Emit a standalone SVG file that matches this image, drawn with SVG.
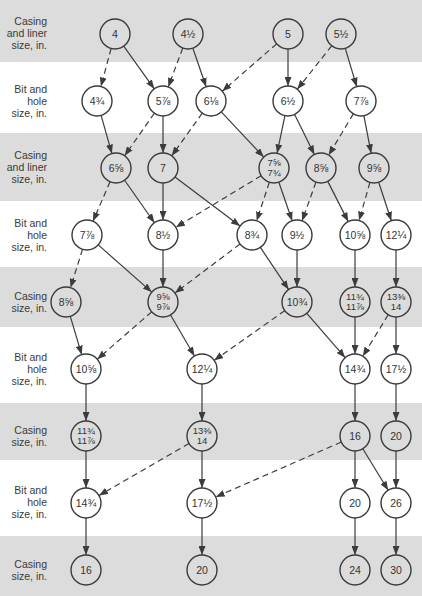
<svg xmlns="http://www.w3.org/2000/svg" width="422" height="596" viewBox="0 0 422 596">
<style>
.band{fill:#dcdcdc}
.lbl{font-family:"Liberation Sans",Arial,sans-serif;font-size:10.5px;fill:#3a3a3a;text-anchor:end}
.c{fill:none;stroke:#3a3a3a;stroke-width:1.4}
.t{font-family:"Liberation Sans","DejaVu Sans",Arial,sans-serif;font-size:10.5px;fill:#333;text-anchor:middle}
.t2{font-family:"Liberation Sans","DejaVu Sans",Arial,sans-serif;font-size:9.5px;fill:#333;text-anchor:middle}
.e{stroke:#3c3c3c;stroke-width:1.2;fill:none;marker-end:url(#ah)}
.d{stroke-dasharray:6 4}
</style>
<defs>
<marker id="ah" markerUnits="userSpaceOnUse" markerWidth="9" markerHeight="7" refX="9" refY="3.5" orient="auto">
<path d="M0,0 L9,3.5 L0,7 Z" fill="#3c3c3c"/>
</marker>
</defs>
<rect width="422" height="596" fill="#ffffff"/>
<g id="bands">
<rect class="band" x="0" y="0" width="422" height="62"/>
<rect class="band" x="0" y="133" width="422" height="68"/>
<rect class="band" x="0" y="267" width="422" height="60"/>
<rect class="band" x="0" y="403" width="422" height="57"/>
<rect class="band" x="0" y="536" width="422" height="60"/>
</g>
<g id="row-labels">
<text class="lbl" x="47" y="25">Casing</text><text class="lbl" x="47" y="37">and liner</text><text class="lbl" x="47" y="49">size, in.</text>
<text class="lbl" x="47" y="93">Bit and</text><text class="lbl" x="47" y="105">hole</text><text class="lbl" x="47" y="117">size, in.</text>
<text class="lbl" x="47" y="159">Casing</text><text class="lbl" x="47" y="171">and liner</text><text class="lbl" x="47" y="183">size, in.</text>
<text class="lbl" x="47" y="227">Bit and</text><text class="lbl" x="47" y="239">hole</text><text class="lbl" x="47" y="251">size, in.</text>
<text class="lbl" x="47" y="300">Casing</text><text class="lbl" x="47" y="312">size, in.</text>
<text class="lbl" x="47" y="361">Bit and</text><text class="lbl" x="47" y="373">hole</text><text class="lbl" x="47" y="385">size, in.</text>
<text class="lbl" x="47" y="434">Casing</text><text class="lbl" x="47" y="446">size, in.</text>
<text class="lbl" x="47" y="494">Bit and</text><text class="lbl" x="47" y="506">hole</text><text class="lbl" x="47" y="518">size, in.</text>
<text class="lbl" x="47" y="568">Casing</text><text class="lbl" x="47" y="580">size, in.</text>
</g>
<g id="connectors">
<line class="e d" x1="111.11" y1="48.49" x2="100.89" y2="86.51"/>
<line class="e" x1="123.74" y1="46.19" x2="154.26" y2="88.81"/>
<line class="e d" x1="182.76" y1="48.05" x2="168.24" y2="86.95"/>
<line class="e" x1="192.87" y1="48.19" x2="206.13" y2="86.81"/>
<line class="e d" x1="276.68" y1="43.85" x2="222.32" y2="91.15"/>
<line class="e" x1="288" y1="49" x2="288" y2="86"/>
<line class="e d" x1="331.69" y1="45.76" x2="297.31" y2="89.24"/>
<line class="e" x1="345.29" y1="48.37" x2="356.71" y2="86.63"/>

<line class="e" x1="101.09" y1="115.43" x2="111.91" y2="153.57"/>
<line class="e d" x1="154.39" y1="113.28" x2="124.61" y2="155.72"/>
<line class="e" x1="163" y1="116" x2="163" y2="153"/>
<line class="e d" x1="202.26" y1="113.19" x2="171.74" y2="155.81"/>
<line class="e" x1="221.28" y1="111.93" x2="263.72" y2="157.07"/>
<line class="e" x1="284.93" y1="115.68" x2="277.07" y2="153.32"/>
<line class="e" x1="294.63" y1="114.46" x2="314.37" y2="154.54"/>
<line class="e d" x1="353.31" y1="113.88" x2="328.69" y2="155.12"/>
<line class="e" x1="363.86" y1="115.73" x2="371.14" y2="153.27"/>

<line class="e d" x1="110.04" y1="181.77" x2="92.96" y2="221.23"/>
<line class="e" x1="124.61" y1="180.28" x2="154.39" y2="222.72"/>
<line class="e" x1="163" y1="183" x2="163" y2="220"/>
<line class="e" x1="174.98" y1="177.02" x2="240.02" y2="225.98"/>
<line class="e d" x1="261.16" y1="175.75" x2="175.84" y2="227.25"/>
<line class="e d" x1="269.32" y1="182.25" x2="256.68" y2="220.75"/>
<line class="e" x1="278.87" y1="182.19" x2="292.13" y2="220.81"/>
<line class="e d" x1="315.94" y1="182.12" x2="302.06" y2="220.88"/>
<line class="e" x1="327.79" y1="181.38" x2="348.21" y2="221.62"/>
<line class="e d" x1="369.91" y1="182.43" x2="359.09" y2="220.57"/>
<line class="e" x1="378.68" y1="182.25" x2="391.32" y2="220.75"/>

<line class="e d" x1="82.51" y1="249.31" x2="70.49" y2="287.69"/>
<line class="e" x1="98.25" y1="244.92" x2="151.75" y2="292.08"/>
<line class="e" x1="163" y1="250" x2="163" y2="287"/>
<line class="e d" x1="240.02" y1="244.02" x2="174.98" y2="292.98"/>
<line class="e" x1="260.36" y1="247.45" x2="288.64" y2="289.55"/>
<line class="e" x1="297" y1="250" x2="297" y2="287"/>
<line class="e" x1="355" y1="250" x2="355" y2="287"/>
<line class="e" x1="396" y1="250" x2="396" y2="287"/>

<line class="e" x1="70.29" y1="316.37" x2="81.71" y2="354.63"/>
<line class="e d" x1="151.68" y1="311.85" x2="97.32" y2="359.15"/>
<line class="e" x1="170.55" y1="314.96" x2="194.45" y2="356.04"/>
<line class="e d" x1="284.74" y1="310.65" x2="214.26" y2="360.35"/>
<line class="e" x1="306.82" y1="313.34" x2="345.18" y2="357.66"/>
<line class="e" x1="355" y1="317" x2="355" y2="354"/>
<line class="e d" x1="388.17" y1="314.79" x2="362.83" y2="356.21"/>
<line class="e" x1="396" y1="317" x2="396" y2="354"/>

<line class="e" x1="86" y1="384" x2="86" y2="421"/>
<line class="e" x1="202" y1="384" x2="202" y2="421"/>
<line class="e" x1="355" y1="384" x2="355" y2="421"/>
<line class="e" x1="396" y1="384" x2="396" y2="421"/>

<line class="e" x1="86" y1="451" x2="86" y2="488"/>
<line class="e d" x1="189.01" y1="443.5" x2="98.99" y2="495.5"/>
<line class="e" x1="202" y1="451" x2="202" y2="488"/>
<line class="e d" x1="341.26" y1="442.02" x2="215.74" y2="496.98"/>
<line class="e" x1="355" y1="451" x2="355" y2="488"/>
<line class="e" x1="362.83" y1="448.79" x2="388.17" y2="490.21"/>
<line class="e" x1="396" y1="451" x2="396" y2="488"/>

<line class="e" x1="86" y1="518" x2="86" y2="555"/>
<line class="e" x1="202" y1="518" x2="202" y2="555"/>
<line class="e" x1="355" y1="518" x2="355" y2="555"/>
<line class="e" x1="396" y1="518" x2="396" y2="555"/>
</g>

<g id="n-a-4"><circle class="c" cx="115" cy="34" r="15"/><text class="t" x="115" y="37.5">4</text></g>
<g id="n-a-4-1-2"><circle class="c" cx="188" cy="34" r="15"/><text class="t" x="188" y="37.5">4½</text></g>
<g id="n-a-5"><circle class="c" cx="288" cy="34" r="15"/><text class="t" x="288" y="37.5">5</text></g>
<g id="n-a-5-1-2"><circle class="c" cx="341" cy="34" r="15"/><text class="t" x="341" y="37.5">5½</text></g>

<g id="n-b-4-3-4"><circle class="c" cx="97" cy="101" r="15"/><text class="t" x="97" y="104.5">4¾</text></g>
<g id="n-b-5-7-8"><circle class="c" cx="163" cy="101" r="15"/><text class="t" x="163" y="104.5">5⅞</text></g>
<g id="n-b-6-1-8"><circle class="c" cx="211" cy="101" r="15"/><text class="t" x="211" y="104.5">6⅛</text></g>
<g id="n-b-6-1-2"><circle class="c" cx="288" cy="101" r="15"/><text class="t" x="288" y="104.5">6½</text></g>
<g id="n-b-7-7-8"><circle class="c" cx="361" cy="101" r="15"/><text class="t" x="361" y="104.5">7⅞</text></g>

<g id="n-c-6-5-8"><circle class="c" cx="116" cy="168" r="15"/><text class="t" x="116" y="171.5">6⅝</text></g>
<g id="n-c-7"><circle class="c" cx="163" cy="168" r="15"/><text class="t" x="163" y="171.5">7</text></g>
<g id="n-c-7-5-8"><circle class="c" cx="274" cy="168" r="15"/><text class="t2" x="274" y="166">7⅝</text><text class="t2" x="274" y="176">7¾</text></g>
<g id="n-c-8-5-8"><circle class="c" cx="321" cy="168" r="15"/><text class="t" x="321" y="171.5">8⅝</text></g>
<g id="n-c-9-5-8"><circle class="c" cx="374" cy="168" r="15"/><text class="t" x="374" y="171.5">9⅝</text></g>

<g id="n-d-7-7-8"><circle class="c" cx="87" cy="235" r="15"/><text class="t" x="87" y="238.5">7⅞</text></g>
<g id="n-d-8-1-2"><circle class="c" cx="163" cy="235" r="15"/><text class="t" x="163" y="238.5">8½</text></g>
<g id="n-d-8-3-4"><circle class="c" cx="252" cy="235" r="15"/><text class="t" x="252" y="238.5">8¾</text></g>
<g id="n-d-9-1-2"><circle class="c" cx="297" cy="235" r="15"/><text class="t" x="297" y="238.5">9½</text></g>
<g id="n-d-10-5-8"><circle class="c" cx="355" cy="235" r="15"/><text class="t" x="355" y="238.5">10⅝</text></g>
<g id="n-d-12-1-4"><circle class="c" cx="396" cy="235" r="15"/><text class="t" x="396" y="238.5">12¼</text></g>

<g id="n-e-8-5-8"><circle class="c" cx="66" cy="302" r="15"/><text class="t" x="66" y="305.5">8⅝</text></g>
<g id="n-e-9-5-8"><circle class="c" cx="163" cy="302" r="15"/><text class="t2" x="163" y="300">9⅝</text><text class="t2" x="163" y="310">9⅞</text></g>
<g id="n-e-10-3-4"><circle class="c" cx="297" cy="302" r="15"/><text class="t" x="297" y="305.5">10¾</text></g>
<g id="n-e-11-3-4"><circle class="c" cx="355" cy="302" r="15"/><text class="t2" x="355" y="300">11¾</text><text class="t2" x="355" y="310">11⅞</text></g>
<g id="n-e-13-3-8"><circle class="c" cx="396" cy="302" r="15"/><text class="t2" x="396" y="300">13⅜</text><text class="t2" x="396" y="310">14</text></g>

<g id="n-f-10-5-8"><circle class="c" cx="86" cy="369" r="15"/><text class="t" x="86" y="372.5">10⅝</text></g>
<g id="n-f-12-1-4"><circle class="c" cx="202" cy="369" r="15"/><text class="t" x="202" y="372.5">12¼</text></g>
<g id="n-f-14-3-4"><circle class="c" cx="355" cy="369" r="15"/><text class="t" x="355" y="372.5">14¾</text></g>
<g id="n-f-17-1-2"><circle class="c" cx="396" cy="369" r="15"/><text class="t" x="396" y="372.5">17½</text></g>

<g id="n-g-11-3-4"><circle class="c" cx="86" cy="436" r="15"/><text class="t2" x="86" y="434">11¾</text><text class="t2" x="86" y="444">11⅞</text></g>
<g id="n-g-13-3-8"><circle class="c" cx="202" cy="436" r="15"/><text class="t2" x="202" y="434">13⅜</text><text class="t2" x="202" y="444">14</text></g>
<g id="n-g-16"><circle class="c" cx="355" cy="436" r="15"/><text class="t" x="355" y="439.5">16</text></g>
<g id="n-g-20"><circle class="c" cx="396" cy="436" r="15"/><text class="t" x="396" y="439.5">20</text></g>

<g id="n-h-14-3-4"><circle class="c" cx="86" cy="503" r="15"/><text class="t" x="86" y="506.5">14¾</text></g>
<g id="n-h-17-1-2"><circle class="c" cx="202" cy="503" r="15"/><text class="t" x="202" y="506.5">17½</text></g>
<g id="n-h-20"><circle class="c" cx="355" cy="503" r="15"/><text class="t" x="355" y="506.5">20</text></g>
<g id="n-h-26"><circle class="c" cx="396" cy="503" r="15"/><text class="t" x="396" y="506.5">26</text></g>

<g id="n-i-16"><circle class="c" cx="86" cy="570" r="15"/><text class="t" x="86" y="573.5">16</text></g>
<g id="n-i-20"><circle class="c" cx="202" cy="570" r="15"/><text class="t" x="202" y="573.5">20</text></g>
<g id="n-i-24"><circle class="c" cx="355" cy="570" r="15"/><text class="t" x="355" y="573.5">24</text></g>
<g id="n-i-30"><circle class="c" cx="396" cy="570" r="15"/><text class="t" x="396" y="573.5">30</text></g>
</svg>
